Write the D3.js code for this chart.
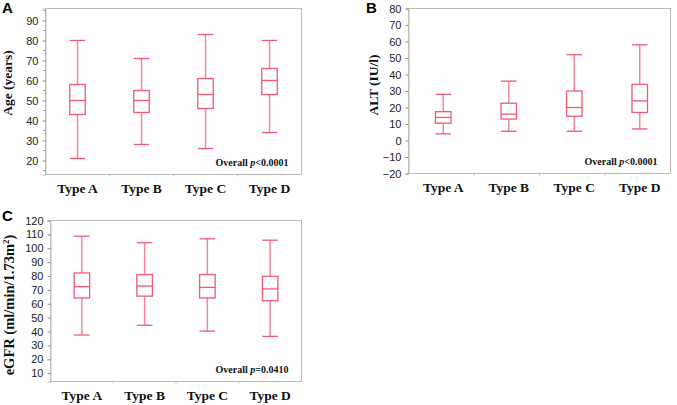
<!DOCTYPE html>
<html>
  <head>
    <meta charset="utf-8" />
    <script src="https://cdn.jsdelivr.net/npm/d3@7"></script>
    <style>
      body {
        margin: 0;
        background: #fff;
      }
      .tick text {
        font-family: "Liberation Sans", Arial, sans-serif;
        font-size: 11px;
        fill: #222;
      }
      .serif {
        font-family: "Liberation Serif", "Times New Roman", serif;
        font-weight: bold;
        fill: #111;
      }
    </style>
  </head>
  <body>
    <script>
      // groups on the x axis
      var types = ["Type A", "Type B", "Type C", "Type D"];

      // box stats per type: [min, q1, median, q3, max]
      var ageStats = [
        [21, 43, 50, 58, 80],
        [28, 44, 50, 55, 71],
        [26, 46, 53, 61, 83],
        [34, 53, 60, 66, 80],
      ];
      var altStats = [
        [4, 10.5, 14, 17.5, 28],
        [5.6, 13, 16, 22.6, 36],
        [5.6, 14.7, 20, 30, 52],
        [7, 17, 24, 34, 58],
      ];
      var egfrStats = [
        [37.5, 64.2, 72.3, 82.2, 108.7],
        [44.5, 65.5, 72.8, 81, 104],
        [40.3, 64.2, 71.8, 81, 106.8],
        [36.5, 62.2, 70.7, 79.8, 105.8],
      ];

      // y axis ticks
      var ageTicks = [20, 30, 40, 50, 60, 70, 80, 90];
      var altTicks = [-20, -10, 0, 10, 20, 30, 40, 50, 60, 70, 80];
      var egfrTicks = [10, 20, 30, 40, 50, 60, 70, 80, 90, 100, 110, 120];

      var W = 677,
        H = 405;
      var svg = d3
        .select("body")
        .append("svg")
        .attr("width", W)
        .attr("height", H);

      var boxColor = "#ef5a74";
      var whiskColor = "#f38a9c";
      var frameColor = "#bdbdbd";

      function panel(opt) {
        var g = svg.append("g");
        var x = d3
          .scaleBand()
          .domain(types)
          .range([opt.left, opt.right]);
        var y = d3
          .scaleLinear()
          .domain(opt.domain)
          .range([opt.bottom, opt.top]);

        // frame
        g.append("rect")
          .attr("x", opt.left)
          .attr("y", opt.top)
          .attr("width", opt.right - opt.left)
          .attr("height", opt.bottom - opt.top)
          .attr("fill", "none")
          .attr("stroke", frameColor)
          .attr("stroke-width", 1);

        // minor ticks
        if (opt.minor) {
          g.selectAll(".minor")
            .data(opt.minor)
            .enter()
            .append("line")
            .attr("x1", opt.left - 2)
            .attr("x2", opt.left)
            .attr("y1", function (d) {
              return y(d);
            })
            .attr("y2", function (d) {
              return y(d);
            })
            .attr("stroke", "#888");
        }

        var yAxis = g
          .append("g")
          .attr("transform", "translate(" + opt.left + ",0)")
          .call(d3.axisLeft(y).tickValues(opt.ticks).tickSize(3).tickPadding(4));
        yAxis.select(".domain").attr("stroke", frameColor);
        yAxis.selectAll(".tick line").attr("stroke", "#888");

        // x axis: small ticks at band edges
        g.selectAll(".xt")
          .data(types.slice(1))
          .enter()
          .append("line")
          .attr("x1", function (d) {
            return x(d);
          })
          .attr("x2", function (d) {
            return x(d);
          })
          .attr("y1", opt.bottom)
          .attr("y2", opt.bottom + 2)
          .attr("stroke", frameColor);

        g.selectAll(".xl")
          .data(types)
          .enter()
          .append("text")
          .attr("class", "serif")
          .attr("x", function (d) {
            return x(d) + x.bandwidth() / 2 + (opt.shift || 0);
          })
          .attr("y", opt.bottom + 18.5)
          .attr("text-anchor", "middle")
          .style("font-size", "13.5px")
          .text(function (d) {
            return d;
          });

        // boxes
        var bw = 15.5;
        var boxes = g
          .selectAll(".box")
          .data(opt.stats)
          .enter()
          .append("g")
          .attr("transform", function (d, i) {
            return (
              "translate(" +
              (x(types[i]) + x.bandwidth() / 2 + (opt.shift || 0)) +
              ",0)"
            );
          });

        boxes
          .append("line")
          .attr("x1", 0)
          .attr("x2", 0)
          .attr("y1", function (d) {
            return y(d[0]);
          })
          .attr("y2", function (d) {
            return y(d[1]);
          })
          .attr("stroke", whiskColor)
          .attr("stroke-width", 1.5);
        boxes
          .append("line")
          .attr("x1", 0)
          .attr("x2", 0)
          .attr("y1", function (d) {
            return y(d[3]);
          })
          .attr("y2", function (d) {
            return y(d[4]);
          })
          .attr("stroke", whiskColor)
          .attr("stroke-width", 1.5);

        [0, 4].forEach(function (k) {
          boxes
            .append("line")
            .attr("x1", -bw / 2)
            .attr("x2", bw / 2)
            .attr("y1", function (d) {
              return y(d[k]);
            })
            .attr("y2", function (d) {
              return y(d[k]);
            })
            .attr("stroke", boxColor)
            .attr("stroke-width", 1.3);
        });

        boxes
          .append("rect")
          .attr("x", -bw / 2)
          .attr("width", bw)
          .attr("y", function (d) {
            return y(d[3]);
          })
          .attr("height", function (d) {
            return y(d[1]) - y(d[3]);
          })
          .attr("fill", "none")
          .attr("stroke", boxColor)
          .attr("stroke-width", 1.3);

        boxes
          .append("line")
          .attr("x1", -bw / 2)
          .attr("x2", bw / 2)
          .attr("y1", function (d) {
            return y(d[2]);
          })
          .attr("y2", function (d) {
            return y(d[2]);
          })
          .attr("stroke", boxColor)
          .attr("stroke-width", 1.3);

        // p value note
        var p = g
          .append("text")
          .attr("class", "serif")
          .attr("x", opt.right - 13)
          .attr("y", opt.bottom - 8.5)
          .attr("text-anchor", "end")
          .style("font-size", "10px");
        p.append("tspan").text("Overall ");
        p.append("tspan").style("font-style", "italic").text("p");
        p.append("tspan").text(opt.pText);

        // y label
        var yl = g
          .append("text")
          .attr("class", "serif")
          .attr("text-anchor", "middle")
          .attr(
            "transform",
            "translate(" + opt.labelX + "," + opt.labelY + ") rotate(-90)"
          )
          .style("font-size", opt.labelSize);
        yl.append("tspan").text(opt.label);
        if (opt.sup) {
          yl.append("tspan")
            .attr("dy", -5)
            .style("font-size", "9px")
            .text(opt.sup);
          yl.append("tspan").attr("dy", 5).text(")");
        }

        // panel letter
        svg
          .append("text")
          .attr("x", opt.letterX)
          .attr("y", opt.letterY)
          .style("font-family", "'Liberation Sans', Arial, sans-serif")
          .style("font-weight", "bold")
          .style("font-size", "15px")
          .attr("fill", "#000")
          .text(opt.letter);
      }

      panel({
        stats: ageStats,
        ticks: ageTicks,
        minor: [15, 25, 35, 45, 55, 65, 75, 85, 95],
        domain: [13, 96],
        left: 45.5,
        right: 301.5,
        top: 8.5,
        bottom: 174.5,
        pText: "<0.0001",
        label: "Age (years)",
        labelSize: "13.5px",
        labelX: 12,
        labelY: 83,
        letter: "A",
        letterX: 2,
        letterY: 13,
      });

      panel({
        stats: altStats,
        ticks: altTicks,
        domain: [-20, 80],
        left: 408.5,
        right: 670.5,
        top: 8.5,
        bottom: 173.5,
        shift: 2,
        pText: "<0.0001",
        label: "ALT (IU/l)",
        labelSize: "13.5px",
        labelX: 378,
        labelY: 85,
        letter: "B",
        letterX: 366,
        letterY: 13,
      });

      panel({
        stats: egfrStats,
        ticks: egfrTicks,
        domain: [4, 120],
        left: 50.5,
        right: 301.5,
        top: 220.5,
        bottom: 381.5,
        pText: "=0.0410",
        label: "eGFR (ml/min/1.73m",
        labelSize: "14.5px",
        sup: "2",
        labelX: 14,
        labelY: 305,
        letter: "C",
        letterX: 2,
        letterY: 221,
      });
    </script>
  </body>
</html>
